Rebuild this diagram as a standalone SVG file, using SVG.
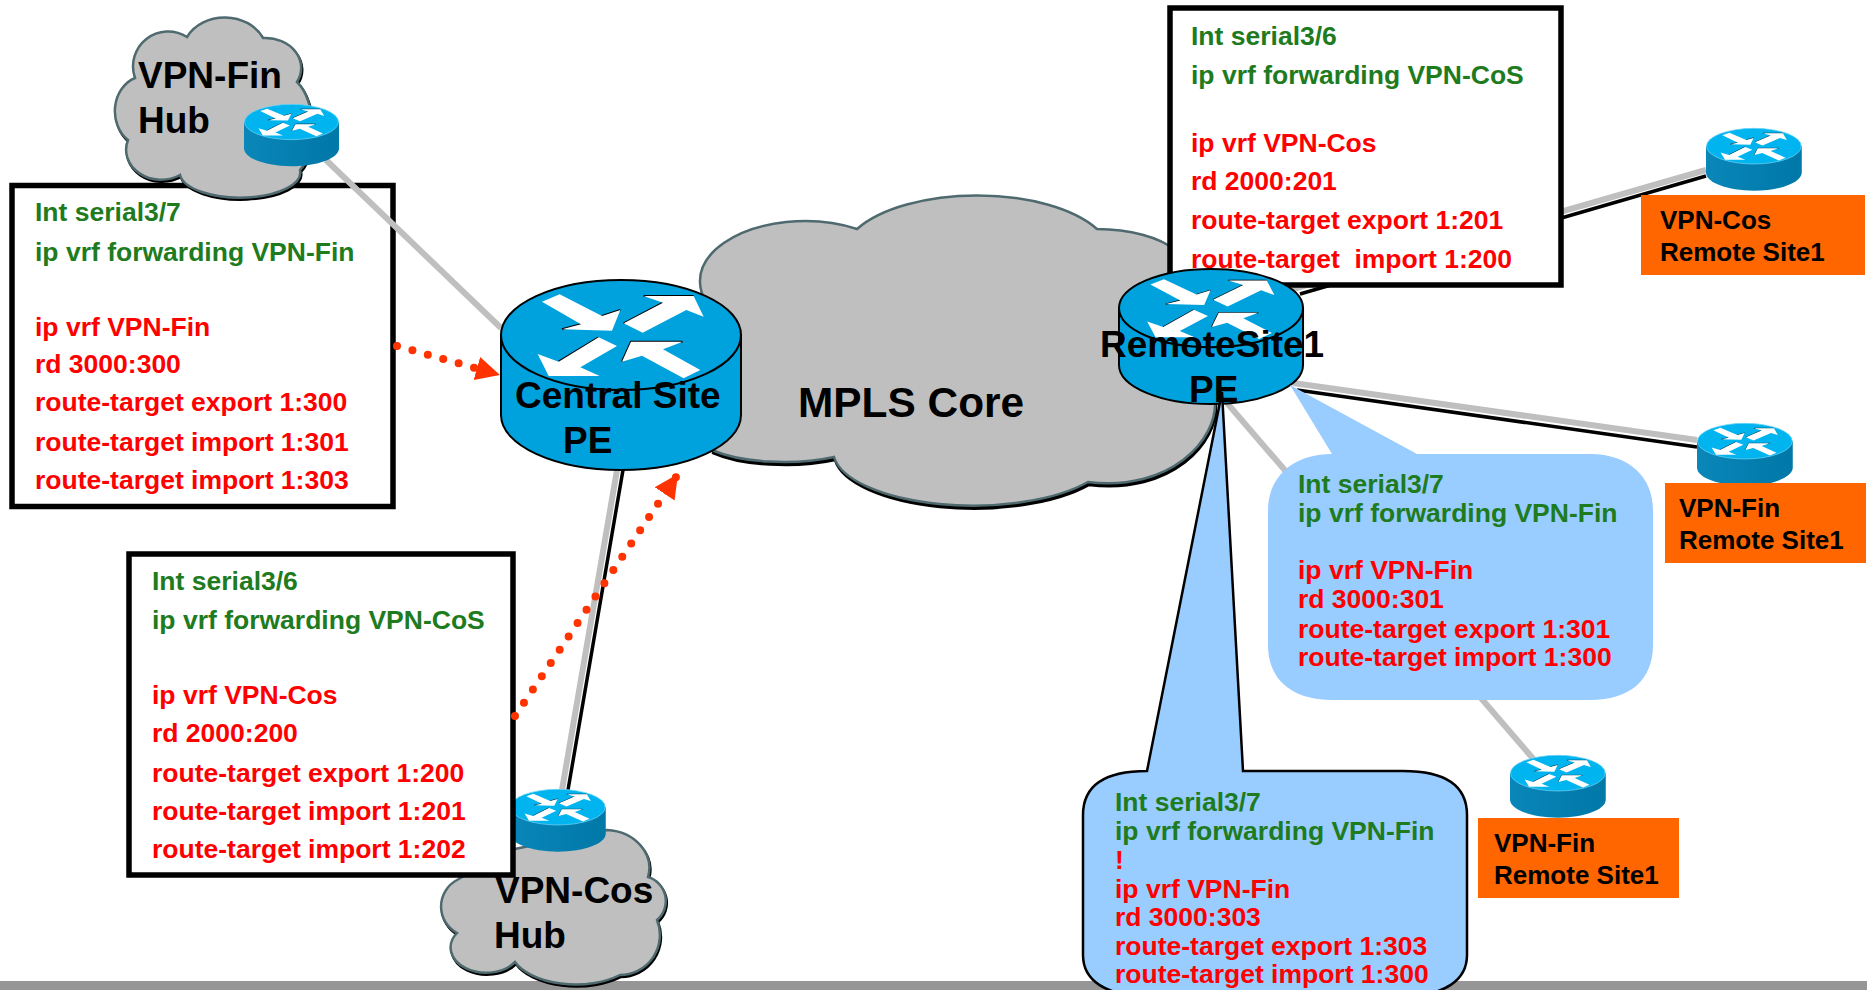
<svg xmlns="http://www.w3.org/2000/svg" xmlns:xlink="http://www.w3.org/1999/xlink" width="1867" height="990" viewBox="0 0 1867 990">
<style>
text{font-family:"Liberation Sans",Arial,sans-serif;font-weight:bold;white-space:pre}
.l{font-size:37px;fill:#000}
.o{font-size:26px;fill:#000}
.g{font-size:26.5px;fill:#1e7b1e}
.r{font-size:26.5px;fill:#f00}
.box{fill:#fff;stroke:#000;stroke-width:5.5}
.orange{fill:#f60}
.cloud{fill:#bfbfbf;stroke:#4f6a6f;stroke-width:2.5}
.shadow{fill:#000;stroke:#000;stroke-width:2.5}
.gray{stroke:#bfbfbf;stroke-width:6;fill:none}
.black{stroke:#000;stroke-width:3.5;fill:none}
.dot{stroke:#ff3300;stroke-width:8;stroke-linecap:round;stroke-dasharray:0 16;fill:none;marker-end:url(#head)}
.callout{fill:#9cf}
.calloutb{fill:#9cf;stroke:#000;stroke-width:2.5}
.big{fill:#00a2de;stroke:#000;stroke-width:2}
.sm-side{fill:url(#side);stroke:none}
.sm-top{fill:#00b4f0;stroke:#6fd6f7;stroke-width:6}
.aw{fill:#fff}
.ak{fill:none;stroke:#000;stroke-width:6}
</style>
<defs>
<linearGradient id="side" x1="0" x2="1" y1="0" y2="0"><stop offset="0" stop-color="#0a86b8"/><stop offset="1" stop-color="#0078a8"/></linearGradient>
<marker id="head" markerUnits="userSpaceOnUse" markerWidth="26" markerHeight="28" refX="24" refY="14" orient="auto"><path d="M0,2L24,14L0,26Z" fill="#ff3300"/></marker>
<g id="arrows">
<path class="ak" d="M183,148L240,133M303,108L358,90M368,130L486,68M428,48H578M173,245L293,172M363,245L390,185H545"/>
<g class="aw">
<path d="M123,65L176,43L303,108L358,90L333,152L183,148L240,133Z"/>
<path d="M368,130L486,68L428,48L578,48L608,110L556,90L425,158Z"/>
<path d="M348,198L293,172L173,245L110,222L143,288L296,288L238,262Z"/>
<path d="M598,270L548,295L423,227L363,245L390,185L545,185L486,208Z"/>
</g>
</g>
<g id="bigrouter">
<path class="big" vector-effect="non-scaling-stroke" d="M0,165V405C0,496 161,570 360,570S720,496 720,405V165Z"/>
<ellipse class="big" vector-effect="non-scaling-stroke" cx="360" cy="165" rx="360" ry="165"/>
<use href="#arrows"/>
</g>
<g id="smrouter">
<path class="sm-side" d="M0,165V405C0,496 161,570 360,570S720,496 720,405V165Z"/>
<ellipse class="sm-top" cx="360" cy="165" rx="356" ry="162"/>
<use href="#arrows"/>
</g>
<path id="cfin" d="M135,78A35,35 0 0 1 187,37A42,35 0 0 1 263,38A36,30 0 0 1 297,82C316,100 318,150 300,170A60,25 0 0 1 180,175A35,30 0 0 1 128,140A30,35 0 0 1 135,78Z"/>
<path id="cmpls" d="M857,229A135,62 0 0 1 1097,229A90,40 0 0 1 1175,250L1215,400C1218,440 1170,492 1088,482A140,55 0 0 1 834,457A90,30 0 0 1 712,450L725,320A105,60 0 0 1 857,229Z"/>
<path id="ccos" d="M607,830A45,38 0 0 1 648,877A25,25 0 0 1 657,920A40,40 0 0 1 620,975A65,35 0 0 1 515,962A35,25 0 0 1 457,933A30,30 0 0 1 457,880L510,850Z"/>
</defs>

<rect id="bottom-bar" x="0" y="981" width="1867" height="9" fill="#969696"/>

<g id="box-central-fin">
<rect class="box" x="12" y="185.500" width="381" height="321"/>
<text class="g" x="35" y="221">Int serial3/7</text>
<text class="g" x="35" y="261">ip vrf forwarding VPN-Fin</text>
<text class="r" x="35" y="336">ip vrf VPN-Fin</text>
<text class="r" x="35" y="373">rd 3000:300</text>
<text class="r" x="35" y="411">route-target export 1:300</text>
<text class="r" x="35" y="451">route-target import 1:301</text>
<text class="r" x="35" y="489">route-target import 1:303</text>
</g>

<g id="cloud-fin">
<use href="#cfin" class="shadow" transform="translate(1,2)"/>
<use href="#cfin" class="cloud"/>
<text class="l" x="138" y="88">VPN-Fin</text>
<text class="l" x="138" y="133">Hub</text>
</g>
<g id="cloud-mpls">
<use href="#cmpls" class="shadow" transform="translate(1,3)"/>
<use href="#cmpls" class="cloud"/>
<text class="l" style="font-size:42.400px" x="798" y="417">MPLS Core</text>
</g>
<g id="cloud-cos">
<use href="#ccos" class="shadow" transform="translate(1,2)"/>
<use href="#ccos" class="cloud"/>
</g>

<g id="connectors">
<line class="gray" x1="326" y1="160" x2="501" y2="328"/>
<line class="gray" x1="617" y1="470" x2="562" y2="790"/>
<line class="black" x1="623" y1="470" x2="568" y2="790"/>
<line class="gray" x1="1293" y1="289" x2="1706" y2="170"/>
<line class="black" x1="1300" y1="294" x2="1706" y2="176"/>
<line class="gray" x1="1293" y1="383" x2="1697" y2="440"/>
<line class="black" x1="1297" y1="390" x2="1697" y2="447"/>
<line class="gray" x1="1227" y1="403" x2="1536" y2="762"/>
</g>

<g id="router-fin-hub"><use href="#smrouter" transform="translate(244,104) scale(.132,.109)"/></g>
<g id="router-cos-hub"><use href="#smrouter" transform="translate(510,789) scale(.133,.110)"/></g>
<g id="router-cos-remote"><use href="#smrouter" transform="translate(1706,128) scale(.133,.110)"/></g>
<g id="router-fin-remote-a"><use href="#smrouter" transform="translate(1697,423) scale(.133,.110)"/></g>
<g id="router-fin-remote-b"><use href="#smrouter" transform="translate(1510,755) scale(.133,.110)"/></g>

<g id="router-central">
<use href="#bigrouter" transform="translate(501,280) scale(.3333)"/>
<text class="l" x="515" y="408">Central Site</text>
<text class="l" x="563" y="453">PE</text>
</g>

<g id="box-central-cos">
<rect class="box" x="129" y="554" width="384" height="321"/>
<text class="g" x="152" y="590">Int serial3/6</text>
<text class="g" x="152" y="629">ip vrf forwarding VPN-CoS</text>
<text class="r" x="152" y="704">ip vrf VPN-Cos</text>
<text class="r" x="152" y="742">rd 2000:200</text>
<text class="r" x="152" y="782">route-target export 1:200</text>
<text class="r" x="152" y="820">route-target import 1:201</text>
<text class="r" x="152" y="858">route-target import 1:202</text>
</g>
<g id="cloud-cos-label">
<text class="l" x="495" y="903">VPN-Cos</text>
<text class="l" x="494" y="948">Hub</text>
</g>

<g id="box-remote-cos">
<rect class="box" x="1170" y="8" width="391" height="277"/>
<text class="g" x="1191" y="45">Int serial3/6</text>
<text class="g" x="1191" y="84">ip vrf forwarding VPN-CoS</text>
<text class="r" x="1191" y="152">ip vrf VPN-Cos</text>
<text class="r" x="1191" y="190">rd 2000:201</text>
<text class="r" x="1191" y="229">route-target export 1:201</text>
<text class="r" x="1191" y="268">route-target  import 1:200</text>
</g>

<g id="router-remote">
<use href="#bigrouter" transform="translate(1119,269) scale(.2556,.237)"/>
</g>

<g id="site-cos"><rect class="orange" x="1641" y="195" width="224" height="80"/>
<text class="o" x="1660" y="229">VPN-Cos</text><text class="o" x="1660" y="261">Remote Site1</text></g>
<g id="site-fin-a"><rect class="orange" x="1665" y="483" width="201" height="80"/>
<text class="o" x="1679" y="517">VPN-Fin</text><text class="o" x="1679" y="549">Remote Site1</text></g>
<g id="site-fin-b"><rect class="orange" x="1478" y="818" width="201" height="80"/>
<text class="o" x="1494" y="852">VPN-Fin</text><text class="o" x="1494" y="884">Remote Site1</text></g>

<g id="callout-right">
<path class="callout" d="M1290,385L1417,454H1590C1630,454 1653,478 1653,510V645C1653,680 1630,700 1590,700H1332C1292,700 1268,680 1268,645V510C1268,478 1292,454 1332,454Z"/>
<text class="g" x="1298" y="493">Int serial3/7</text>
<text class="g" x="1298" y="522">ip vrf forwarding VPN-Fin</text>
<text class="r" x="1298" y="579">ip vrf VPN-Fin</text>
<text class="r" x="1298" y="608">rd 3000:301</text>
<text class="r" x="1298" y="638">route-target export 1:301</text>
<text class="r" x="1298" y="666">route-target import 1:300</text>
</g>

<g id="callout-lower">
<path class="calloutb" d="M1222,392L1147,771C1105,771 1083,785 1083,815V955C1083,980 1105,996 1147,996H1403C1445,996 1467,980 1467,955V815C1467,785 1445,771 1403,771H1243Z"/>
<text class="g" x="1115" y="811">Int serial3/7</text>
<text class="g" x="1115" y="840">ip vrf forwarding VPN-Fin</text>
<text class="r" x="1115" y="869">!</text>
<text class="r" x="1115" y="898">ip vrf VPN-Fin</text>
<text class="r" x="1115" y="926">rd 3000:303</text>
<text class="r" x="1115" y="955">route-target export 1:303</text>
<text class="r" x="1115" y="983">route-target import 1:300</text>
</g>

<g id="router-remote-label">
<text class="l" x="1100" y="357">RemoteSite1</text>
<text class="l" x="1189" y="402">PE</text>
</g>

<g id="dotted-connectors">
<path class="dot" d="M397,346L500,375"/>
<path class="dot" d="M515,716L678,474"/>
</g>
</svg>
